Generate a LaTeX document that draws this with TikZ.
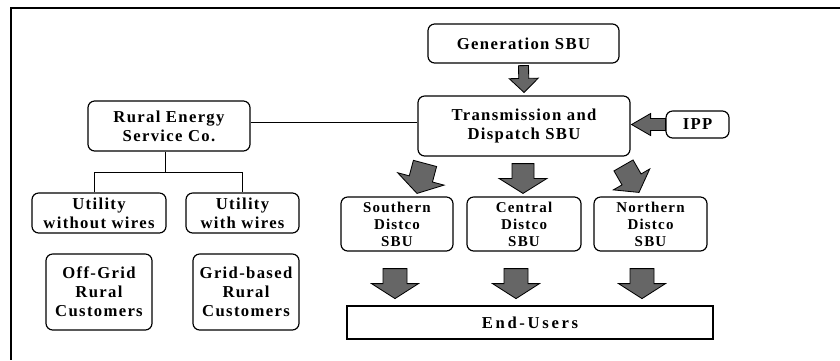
\documentclass[tikz,border=0pt]{standalone}
\usepackage{fontspec}
\usepackage{tikz}
\usetikzlibrary{calc}
\usepackage{xcolor}

\newfontfamily\boxfont{Liberation Serif}[LetterSpace=8]
\newfontfamily\widefont{Liberation Serif}[LetterSpace=16]
\definecolor{arrowgray}{RGB}{102,102,102}

\tikzset{
  rbox/.style={draw, line width=0.7pt, rounded corners=4pt, align=center, inner sep=0pt,
    font={\boxfont\bfseries\fontsize{10}{11.5}\selectfont}},
  dbox/.style={rbox, font={\boxfont\bfseries\fontsize{9}{10.2}\selectfont}},
  linkline/.style={line width=0.6pt},
  blockarrow/.style={draw, line width=0.5pt, fill=arrowgray, line join=miter}
}

% fat arrow: tail, tip, half shaft, half head, head length
\newcommand{\blockarrow}[5]{%
  \coordinate (ba-t) at #1;
  \coordinate (ba-p) at #2;
  \coordinate (ba-h) at ($(ba-p)!#5!(ba-t)$);
  \draw[blockarrow] ($(ba-t)!#3!90:(ba-p)$) -- ($(ba-h)!#3!90:(ba-p)$)
    -- ($(ba-h)!#4!90:(ba-p)$) -- (ba-p) -- ($(ba-h)!#4!-90:(ba-p)$)
    -- ($(ba-h)!#3!-90:(ba-p)$) -- ($(ba-t)!#3!-90:(ba-p)$) -- cycle;
}

\begin{document}
\begin{tikzpicture}[x=0.6pt, y=-0.6pt]
\useasboundingbox (0,0) rectangle (840,360);
\draw [line width=1.2pt] (840,7.8) -- (10.8,7.8) -- (10.8,360);

\node [rbox, minimum width=114.6pt, minimum height=23.4pt] (gen) at (523.5,43.5) {Generation SBU};
\node [rbox, minimum width=127.2pt, minimum height=36pt] (trans) at (524,126) {Transmission and\\Dispatch SBU};
\node [rbox, minimum width=37.8pt, minimum height=16.2pt] (ipp) at (697.5,124.5) {IPP};
\node [rbox, minimum width=97.2pt, minimum height=30pt] (resc) at (169,126) {Rural Energy\\Service Co.};
\node [rbox, minimum width=80.4pt, minimum height=24pt] (uwo) at (99,213) {Utility\\without wires};
\node [rbox, minimum width=67.8pt, minimum height=24pt] (uw) at (242.5,213) {Utility\\with wires};
\node [rbox, minimum width=63.6pt, minimum height=45.6pt] (offgrid) at (99,292) {Off-Grid\\Rural\\Customers};
\node [rbox, minimum width=63.6pt, minimum height=45.6pt] (gridbased) at (246,292) {Grid-based\\Rural\\Customers};
\node [dbox, minimum width=67.2pt, minimum height=32.4pt] (south) at (397,224) {Southern\\Distco\\SBU};
\node [dbox, minimum width=68.4pt, minimum height=32.4pt] (central) at (524,224) {Central\\Distco\\SBU};
\node [dbox, minimum width=67.8pt, minimum height=32.4pt] (north) at (650.5,224) {Northern\\Distco\\SBU};
\node [draw, line width=0.7pt, inner sep=0pt, minimum width=219.6pt, minimum height=19.8pt,
  font={\widefont\bfseries\fontsize{10}{12}\selectfont}] (endusers) at (530,322.5) {End-Users};

\draw [linkline] ($(resc.east)+(0,-4)$) -- ($(trans.west)+(0,-4)$);
\draw [linkline] ($(resc.south)+(-4,0)$) -- ++(0,21) coordinate (bus);
\draw [linkline] ($(uwo.north)+(-5,0)$) |- (bus) -| (uw.north);

\blockarrow{($(gen.south)+(0,2)$)}{($(trans.north)+(0,-3)$)}{3pt}{8.7pt}{8.4pt}
\blockarrow{(ipp.west)}{($(trans.east |- ipp.west)+(1,0)$)}{3.6pt}{6.6pt}{11.4pt}
\blockarrow{($(south.north)+(28,-33)$)}{($(south.north)+(20,-3)$)}{7.2pt}{14.4pt}{9pt}
\blockarrow{($(trans.south)+(-1,7)$)}{($(central.north)+(-1,-3)$)}{6.6pt}{14.4pt}{9pt}
\blockarrow{($(north.north)+(-27,-31)$)}{($(north.north)+(-11.5,-4)$)}{6.6pt}{12.6pt}{9pt}
\blockarrow{($(south.south)+(-2,17)$)}{($(south.south)+(-2,47)$)}{7.2pt}{14.1pt}{9pt}
\blockarrow{($(central.south)+(-8,17)$)}{($(central.south)+(-8,47)$)}{7.2pt}{14.1pt}{9pt}
\blockarrow{($(north.south)+(-8.5,17)$)}{($(north.south)+(-8.5,47)$)}{7.2pt}{14.1pt}{9pt}
\end{tikzpicture}
\end{document}
